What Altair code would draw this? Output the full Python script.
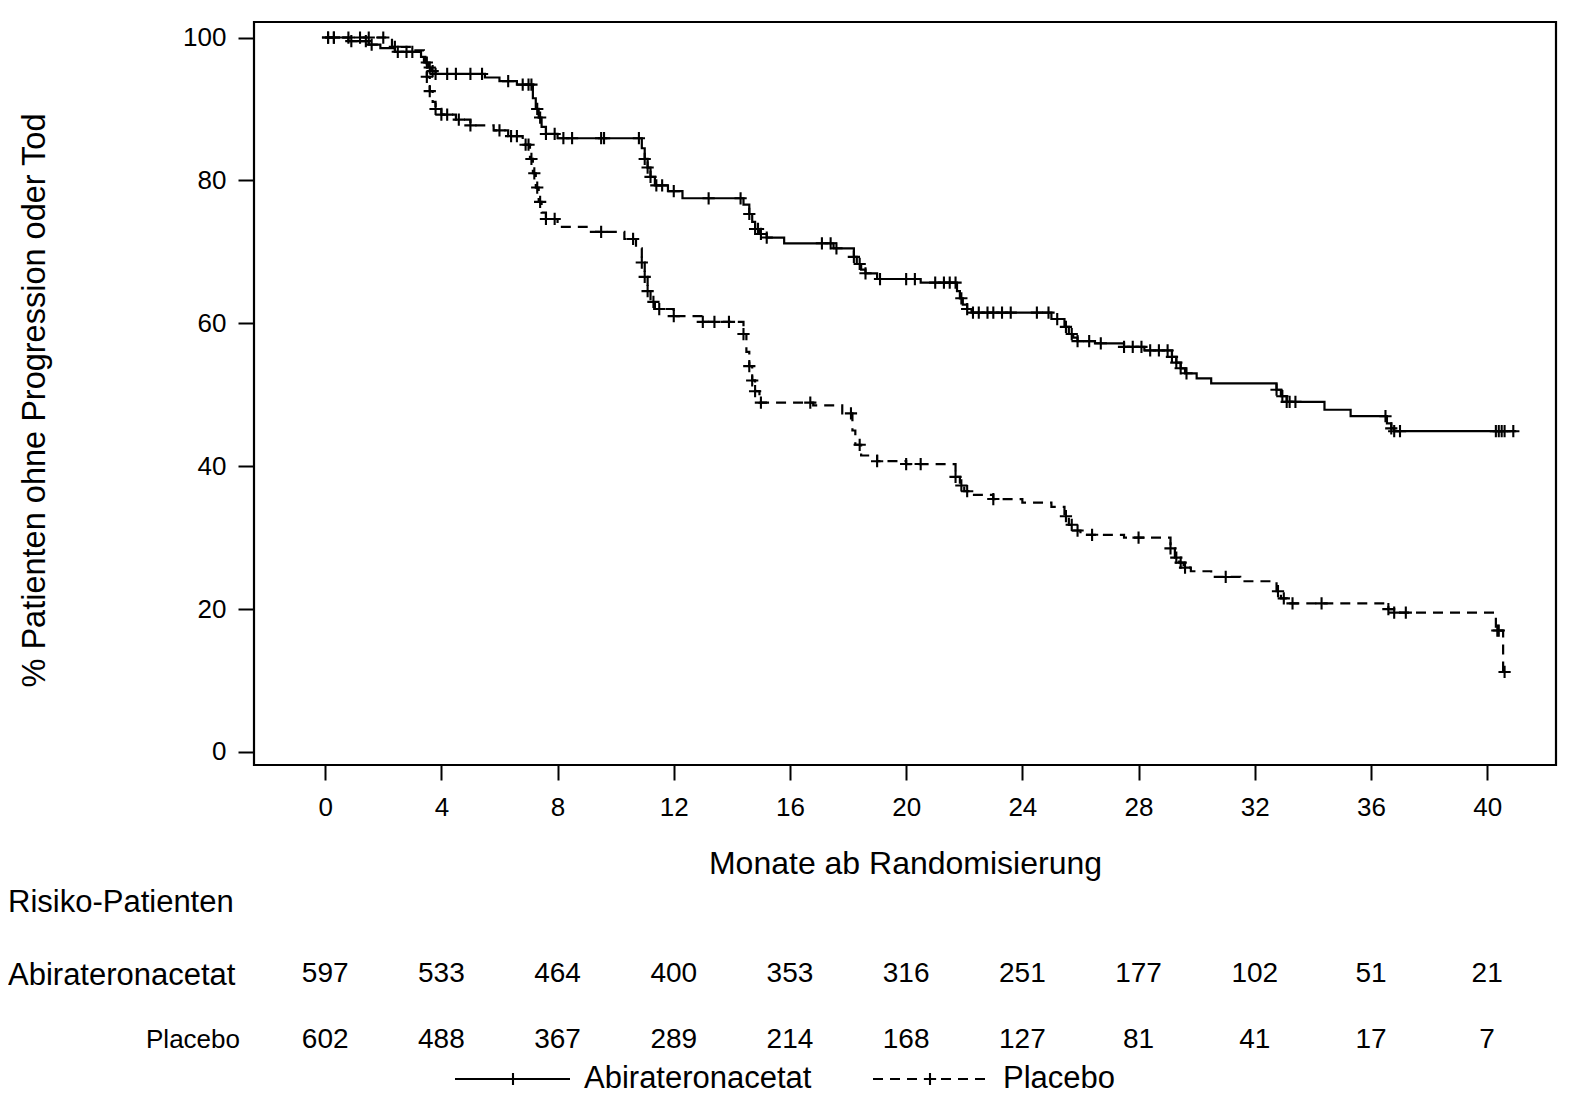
import bisect
import altair as alt
import pandas as pd

# ---------------- data ----------------
# Kaplan-Meier step curves (time in months, % without progression or death)
abi_t = [0, 0.8, 1.5, 1.9, 2.4, 3.3, 3.45, 3.55, 3.65, 3.8, 5.5, 6.0, 6.6, 7.15, 7.25, 7.35,
         7.45, 7.6, 8.0, 10.9, 11.0, 11.1, 11.2, 11.35, 11.8, 12.3, 14.4, 14.6, 14.7, 14.8,
         14.95, 15.2, 15.8, 17.5, 18.2, 18.3, 18.45, 18.6, 19.0, 20.5, 21.75, 21.85, 21.95,
         22.1, 22.25, 25.0, 25.45, 25.6, 25.75, 25.9, 26.5, 27.5, 28.2, 29.15, 29.3, 29.45,
         29.6, 30.0, 30.5, 32.75, 32.9, 33.1, 34.4, 35.3, 36.55, 36.7, 36.8, 41.0]
abi_s = [100, 99.5, 99.0, 98.5, 98.0, 97.3, 96.5, 95.8, 95.3, 94.9, 94.4, 93.9, 93.4, 91.5,
         90.0, 88.8, 87.5, 86.5, 85.9, 84.5, 83.0, 81.8, 80.5, 79.3, 78.5, 77.5, 76.6, 75.3,
         74.2, 73.2, 72.5, 72.0, 71.2, 70.5, 69.3, 68.3, 67.5, 67.0, 66.2, 65.7, 64.5, 63.5,
         62.6, 62.0, 61.5, 60.6, 59.5, 58.5, 58.0, 57.5, 57.2, 56.7, 56.2, 55.3, 54.5, 53.7,
         53.0, 52.3, 51.6, 50.7, 49.8, 49.0, 47.9, 47.0, 46.0, 45.3, 44.9, 44.9]

pla_t = [0, 2.3, 3.0, 3.4, 3.5, 3.6, 3.7, 3.8, 4.0, 4.5, 5.0, 5.8, 6.3, 6.8, 7.05, 7.15,
         7.25, 7.35, 7.45, 7.6, 8.0, 9.0, 10.3, 10.7, 10.9, 11.0, 11.1, 11.2, 11.35, 12.0,
         13.0, 14.4, 14.5, 14.6, 14.7, 14.8, 14.95, 16.8, 17.8, 18.15, 18.25, 18.45, 19.0,
         20.0, 21.7, 21.85, 22.0, 22.2, 23.0, 24.0, 25.0, 25.45, 25.6, 25.75, 26.0, 27.5,
         29.1, 29.25, 29.4, 29.55, 29.8, 30.5, 31.5, 32.75, 32.9, 33.1, 36.6, 36.8, 40.3,
         40.55, 40.65]
pla_s = [100, 98.7, 98.2, 96.5, 94.5, 92.5, 91.0, 90.0, 89.2, 88.5, 87.7, 87.0, 86.2, 85.0,
         83.0, 81.0, 79.0, 77.0, 75.5, 74.6, 73.5, 72.8, 71.8, 70.5, 68.5, 66.5, 64.5, 63.0,
         62.0, 61.0, 60.2, 58.5, 56.0, 54.0, 52.0, 50.5, 48.9, 48.5, 47.4, 45.0, 43.0, 41.5,
         40.7, 40.3, 38.5, 37.3, 36.5, 36.0, 35.4, 34.9, 34.3, 33.0, 31.8, 31.0, 30.4, 30.0,
         28.5, 27.2, 26.5, 25.8, 25.3, 24.5, 23.9, 22.5, 21.5, 20.8, 20.0, 19.5, 17.0, 11.2,
         11.2]

# censoring times (+ marks)
abi_cens = [0.1, 0.3, 0.9, 1.4, 1.6, 2.5, 2.8, 3.0, 3.5, 3.6, 3.7, 3.8, 4.2, 4.5, 5.0, 5.4,
            6.3, 6.8, 7.0, 7.1, 7.3, 7.4, 7.6, 7.9, 8.2, 8.5, 9.5, 9.6, 10.8, 11.0, 11.1,
            11.2, 11.4, 11.6, 12.0, 13.2, 14.3, 14.6, 14.8, 14.9, 15.0, 15.2, 17.1, 17.4,
            17.6, 18.2, 18.4, 18.6, 19.1, 20.0, 20.3, 21.0, 21.3, 21.5, 21.7, 21.9, 22.1,
            22.3, 22.5, 22.8, 23.0, 23.3, 23.6, 24.5, 24.9, 25.2, 25.5, 25.7, 25.9, 26.3,
            26.7, 27.5, 27.8, 28.1, 28.4, 28.7, 29.0, 29.15, 29.3, 29.45, 29.65, 32.75,
            32.95, 33.1, 33.2, 33.4, 36.5, 36.7, 36.8, 37.0, 40.3, 40.4, 40.5, 40.6, 40.9]
pla_cens = [0.1, 0.3, 0.8, 1.2, 1.5, 2.0, 2.4, 3.5, 3.6, 3.8, 4.0, 4.2, 4.6, 5.0, 6.0, 6.4,
            6.6, 6.9, 7.0, 7.1, 7.2, 7.3, 7.4, 7.6, 7.9, 9.5, 10.6, 10.9, 11.0, 11.1, 11.3,
            11.5, 12.0, 13.0, 13.4, 13.9, 14.4, 14.6, 14.7, 14.8, 15.0, 16.7, 18.1, 18.4,
            19.0, 20.0, 20.5, 21.7, 21.9, 22.1, 23.0, 25.5, 25.7, 25.9, 26.4, 28.0, 29.1,
            29.3, 29.45, 29.6, 31.0, 32.8, 33.0, 33.3, 34.3, 36.6, 36.8, 37.2, 40.35, 40.4,
            40.6]

# risk table
risk_months = [0, 4, 8, 12, 16, 20, 24, 28, 32, 36, 40]
abi_risk = [597, 533, 464, 400, 353, 316, 251, 177, 102, 51, 21]
pla_risk = [602, 488, 367, 289, 214, 168, 127, 81, 41, 17, 7]

arm_names = ["Abirateronacetat", "Placebo"]
x_title = "Monate ab Randomisierung"
y_title = "% Patienten ohne Progression oder Tod"
risk_title = "Risiko-Patienten"

# ---------------- helpers ----------------
FONT = "Liberation Sans, Arial, sans-serif"
NFONT = "Liberation Sans Narrow, Liberation Sans, Arial, sans-serif"
PLUS = "M-1,0L1,0M0,-1L0,1"

def curve(t, s):
    return pd.DataFrame({"t": t, "s": s})

def censors(times, t, s):
    vals = [s[bisect.bisect_right(t, c) - 1] for c in times]
    return pd.DataFrame({"t": times, "s": vals})

xs = alt.Scale(domain=[-2.45, 42.37], nice=False, zero=False)
ys = alt.Scale(domain=[-1.82, 102.17], nice=False, zero=False)

X = alt.X("t:Q", scale=xs, axis=alt.Axis(
    values=risk_months, title=x_title, labelFontSize=26, titleFontSize=32,
    tickSize=15, labelPadding=14, titlePadding=28, titleFontWeight="normal",
    labelFont=FONT, titleFont=FONT))
Y = alt.Y("s:Q", scale=ys, axis=alt.Axis(
    values=[0, 20, 40, 60, 80, 100], title=y_title, labelFontSize=26, titleFontSize=32.5,
    tickSize=16, labelPadding=12, titlePadding=131, titleFontWeight="normal",
    titleY=378, labelFont=FONT, titleFont=FONT))

MARK = dict(shape=PLUS, filled=False, color="black", strokeWidth=2.1, size=150, opacity=1)

abi_line = alt.Chart(curve(abi_t, abi_s)).mark_line(
    interpolate="step-after", color="black", strokeWidth=2.2).encode(x=X, y=Y)
pla_line = alt.Chart(curve(pla_t, pla_s)).mark_line(
    interpolate="step-after", color="black", strokeWidth=2.2, strokeDash=[10, 7]).encode(x=X, y=Y)

abi_pts = alt.Chart(censors(abi_cens, abi_t, abi_s)).mark_point(**MARK).encode(x=X, y=Y)
pla_pts = alt.Chart(censors(pla_cens, pla_t, pla_s)).mark_point(**MARK).encode(x=X, y=Y)

risk_df = pd.DataFrame({
    "t": risk_months * 2,
    "n": abi_risk + pla_risk,
    "row": [952] * len(abi_risk) + [1018] * len(pla_risk),
})
risk_text = alt.Chart(risk_df).mark_text(
    font=NFONT, fontSize=28, color="black", baseline="middle", align="center").encode(
    x=alt.X("t:Q", scale=xs), y=alt.Y("row:Q", scale=None), text="n:Q")

one = pd.DataFrame({"k": [0]})

def label(txt, x, y, size, align="left", font=FONT):
    return alt.Chart(one).mark_text(
        text=txt, font=font, fontSize=size, color="black", align=align, baseline="middle"
    ).encode(x=alt.value(x), y=alt.value(y))

lab_risk = label(risk_title, -246, 881, 31)
lab_abi = label(arm_names[0], -246, 954, 31)
lab_pla = label(arm_names[1], -14, 1018, 26, align="right", font=NFONT)

# manual legend
LY = 1057
leg_abi_line = alt.Chart(one).mark_rule(color="black", strokeWidth=2.2).encode(
    x=alt.value(201), x2=alt.value(316), y=alt.value(LY))
leg_pla_line = alt.Chart(one).mark_rule(color="black", strokeWidth=2.2, strokeDash=[10, 7]).encode(
    x=alt.value(619), x2=alt.value(736), y=alt.value(LY))
leg_abi_pt = alt.Chart(one).mark_point(**MARK).encode(x=alt.value(259), y=alt.value(LY))
leg_pla_pt = alt.Chart(one).mark_point(**MARK).encode(x=alt.value(676), y=alt.value(LY))
leg_abi_txt = label(arm_names[0], 330, LY, 31)
leg_pla_txt = label(arm_names[1], 749, LY, 31)

chart = alt.layer(
    abi_line, pla_line, abi_pts, pla_pts, risk_text,
    lab_risk, lab_abi, lab_pla,
    leg_abi_line, leg_pla_line, leg_abi_pt, leg_pla_pt, leg_abi_txt, leg_pla_txt,
).properties(
    width=1302, height=743,
    padding={"top": 14, "left": 0, "right": 5, "bottom": 0},
).configure_view(
    stroke="black", strokeWidth=2.2
).configure_axis(
    grid=False, domain=False, tickColor="black", tickWidth=2,
    labelColor="black", titleColor="black",
)

chart.save("out.html", embed_options={"renderer": "svg", "actions": False})
